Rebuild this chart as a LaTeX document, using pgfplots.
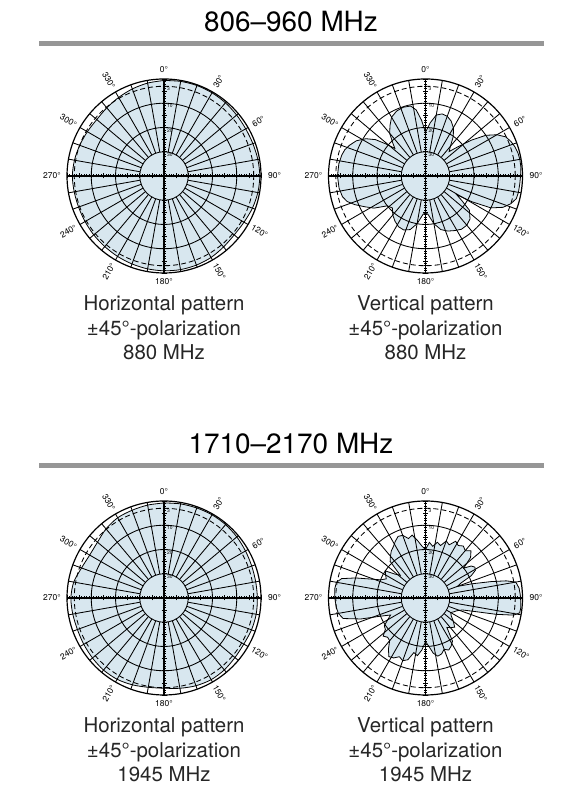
\documentclass[border=0pt]{standalone}
\usepackage{fontspec}
\setmainfont{TeX Gyre Heros}
\usepackage{pgfplots}
\usepackage{pgfplotstable}
\pgfplotsset{compat=1.18}
\definecolor{patfill}{RGB}{216,231,239}
\definecolor{barcol}{RGB}{150,150,150}

% compass angle (deg), level (dB)
\pgfplotstableread{
a db
0 -0.6
10 -0.4
20 -0.3
30 -0.4
40 -0.6
50 -0.9
60 -1.1
70 -1.0
80 -0.7
90 -0.5
100 -0.7
110 -1.2
120 -1.9
130 -2.2
140 -1.8
150 -1.2
160 -0.9
170 -0.8
180 -0.9
190 -1.1
200 -1.4
210 -1.7
220 -2.0
230 -2.2
240 -2.4
250 -2.5
260 -2.4
270 -2.2
280 -2.5
290 -3.0
300 -3.5
310 -3.8
320 -3.3
330 -2.6
340 -1.8
350 -1.1
360 -0.6
}\patA

\pgfplotstableread{
a db
0 -22
5 -18
10 -14.5
15 -13.5
20 -13.8
25 -15
30 -17
35 -20
40 -24
44 -26
48 -22
52 -16
56 -10
60 -6
64 -3.2
68 -2
72 -1.2
76 -0.7
80 -0.5
85 -0.5
90 -0.8
95 -1.0
100 -1.1
104 -1.4
108 -3
112 -5.5
116 -10
119 -18
121 -25
124 -22
128 -17
134 -14.5
140 -13.5
146 -13.5
152 -14.5
158 -15.5
164 -17
170 -20
176 -24
180 -25
184 -24
190 -20
196 -17
202 -16
208 -16.3
214 -17.5
220 -19
226 -21
232 -20
238 -15
243 -12
248 -8.5
252 -6
256 -4.7
262 -4
270 -3.7
278 -3.9
284 -4.4
288 -5
292 -6.2
297 -8
302 -11
306 -14.5
309 -19
312 -23
315 -21
320 -17
325 -14.5
330 -12
336 -10.7
342 -10.2
348 -10.5
352 -12.5
356 -17
360 -22
}\patB

\pgfplotstableread{
a db
0 -0.8
10 -0.6
20 -0.5
30 -0.4
40 -0.5
50 -0.8
60 -1.2
70 -1.5
80 -1.6
90 -1.5
100 -1.4
110 -1.6
120 -2.0
130 -1.8
140 -1.3
150 -1.1
160 -1.5
170 -2.2
180 -2.8
190 -2.6
200 -1.9
210 -1.3
220 -1.2
230 -1.5
240 -1.8
250 -2.0
260 -1.8
270 -1.6
280 -2.2
290 -3.8
300 -4.6
310 -4.2
320 -2.8
330 -1.8
340 -1.5
350 -1.1
360 -0.8
}\patC

\pgfplotstableread{
a db
0 -20
4 -17
8 -18.5
12 -16.5
16 -17.5
20 -15
24 -16
28 -13.5
32 -14.5
36 -13.5
40 -14.5
44 -13
48 -15
52 -20
55 -17
58 -16
61 -16.5
64 -19
67 -24
70 -26
73 -20
76 -12
78 -6
80 -2.2
84 -1.2
88 -0.9
92 -0.7
96 -0.5
99 -0.7
101 -3
103 -10
105 -18
108 -24
112 -26
116 -27
120 -28
125 -27
130 -25
135 -23
140 -24
144 -25
148 -19
152 -17.5
156 -16.5
160 -17.5
164 -16
168 -15.5
172 -17
176 -20
180 -22
184 -18.5
188 -16
192 -17
196 -13.5
200 -12.5
204 -13.5
208 -12
212 -11.5
216 -14
220 -17
224 -17.5
228 -16.5
232 -19
236 -19.5
240 -22
244 -24
248 -20
252 -12
256 -5
260 -3.5
264 -3
270 -2.6
276 -2.4
280 -2.7
283 -4.5
286 -10
289 -16
292 -20
296 -22
300 -21
304 -20
308 -24
312 -26
316 -19
320 -17.5
324 -16
328 -15
332 -13.5
336 -12.2
340 -12.5
344 -14.5
348 -13.5
352 -16
356 -18.5
360 -20
}\patD

\pgfplotsset{
  polarbox/.style={
    width=194bp, height=194bp, scale only axis,
    xmin=-40, xmax=40, ymin=-40, ymax=40,
    anchor=center, clip=false,
    axis lines=middle, axis on top,
    axis line style={-, black, line width=1.4bp},
    xtick={-40,-35,...,40}, ytick={-40,-35,...,40},
    minor x tick num=4, minor y tick num=4,
    xticklabels={}, yticklabels={},
    tick align=center,
    major tick length=5bp, minor tick length=3bp,
    every tick/.style={black, line width=0.6bp},
    no marks,
  },
  table/patx/.style={x expr={(\thisrow{db}+40)*sin(\thisrow{a})}, y expr={(\thisrow{db}+40)*cos(\thisrow{a})}},
}

\tikzset{
  deglab/.style={font=\fontsize{8.5}{9}\selectfont, inner sep=0pt},
  scalelab/.style={font=\fontsize{5}{5}\selectfont, inner sep=0pt},
  gl/.style={black, line width=0.85bp},
}

\newcommand{\polargrid}{%
  \draw[black, line width=1.2bp] (axis cs:0,0) circle[radius=40];
  \draw[gl, dash pattern=on 5bp off 3bp] (axis cs:0,0) circle[radius=37];
  \draw[gl] (axis cs:0,0) circle[radius=30];
  \draw[gl] (axis cs:0,0) circle[radius=20];
  \pgfplotsinvokeforeach{0,10,...,350}{%
    \draw[gl] (axis cs:{10*sin(##1)},{10*cos(##1)}) -- (axis cs:{40*sin(##1)},{40*cos(##1)});}
  \draw[gl, fill=patfill] (axis cs:0,0) circle[radius=10];
  \node[deglab] at (axis cs:0,43.8) {0°};
  \node[deglab, rotate=60] at (axis cs:22.5,38.97) {30°};
  \node[deglab, rotate=30] at (axis cs:38.97,22.5) {60°};
  \node[deglab] at (axis cs:45.6,0) {90°};
  \node[deglab, rotate=-30] at (axis cs:39.4,-22.75) {120°};
  \node[deglab, rotate=-60] at (axis cs:22.75,-39.4) {150°};
  \node[deglab] at (axis cs:0,-43.6) {180°};
  \node[deglab, rotate=60] at (axis cs:-22.75,-39.4) {210°};
  \node[deglab, rotate=30] at (axis cs:-39.4,-22.75) {240°};
  \node[deglab] at (axis cs:-46.2,0) {270°};
  \node[deglab, rotate=-30] at (axis cs:-39.4,22.75) {300°};
  \node[deglab, rotate=-60] at (axis cs:-22.75,39.4) {330°};
  \node[scalelab, anchor=north west] at (axis cs:1.2,36.6) {3};
  \node[scalelab, anchor=north west] at (axis cs:1.2,29.6) {10};
  \node[scalelab, anchor=north west] at (axis cs:1.2,19.6) {20};
  \node[scalelab, anchor=north west] at (axis cs:1.2,9.6) {30};
}

\begin{document}
\begin{tikzpicture}[x=1bp, y=1bp]
\useasboundingbox (0,0) rectangle (588,808);

% section headings and bars
\node[anchor=base, font=\fontsize{28}{30}\selectfont] at (291,776) {806--960 MHz};
\fill[barcol] (39,762) rectangle (544,767);
\node[anchor=base, font=\fontsize{28}{30}\selectfont] at (291,354) {1710--2170 MHz};
\fill[barcol] (39,340) rectangle (544,345);

% upper left
\begin{axis}[polarbox, at={(164bp,632bp)}]
  \addplot[fill=patfill, draw=none, smooth] table[patx] {\patA};
  \polargrid
  \addplot[black, line width=0.8bp, smooth] table[patx] {\patA};
\end{axis}

% upper right
\begin{axis}[polarbox, at={(425.5bp,632bp)}]
  \addplot[fill=patfill, draw=none] table[patx] {\patB};
  \polargrid
  \addplot[black, line width=0.8bp] table[patx] {\patB};
\end{axis}

% lower left
\begin{axis}[polarbox, at={(164bp,210bp)}]
  \addplot[fill=patfill, draw=none, smooth] table[patx] {\patC};
  \polargrid
  \addplot[black, line width=0.8bp, smooth] table[patx] {\patC};
\end{axis}

% lower right
\begin{axis}[polarbox, at={(425.5bp,210bp)}]
  \addplot[fill=patfill, draw=none] table[patx] {\patD};
  \polargrid
  \addplot[black, line width=0.8bp] table[patx] {\patD};
\end{axis}

% captions
\begin{scope}[every node/.style={anchor=base, font=\fontsize{20.5}{24}\selectfont, text=black!85, inner sep=0pt}]
\node at (164,497) {Horizontal pattern};
\node at (164,472.5) {±45°-polarization};
\node at (164,448) {880 MHz};
\node at (425.5,497) {Vertical pattern};
\node at (425.5,472.5) {±45°-polarization};
\node at (425.5,448) {880 MHz};
\node at (164,75) {Horizontal pattern};
\node at (164,50.5) {±45°-polarization};
\node at (164,26) {1945 MHz};
\node at (425.5,75) {Vertical pattern};
\node at (425.5,50.5) {±45°-polarization};
\node at (425.5,26) {1945 MHz};
\end{scope}
\end{tikzpicture}
\end{document}
